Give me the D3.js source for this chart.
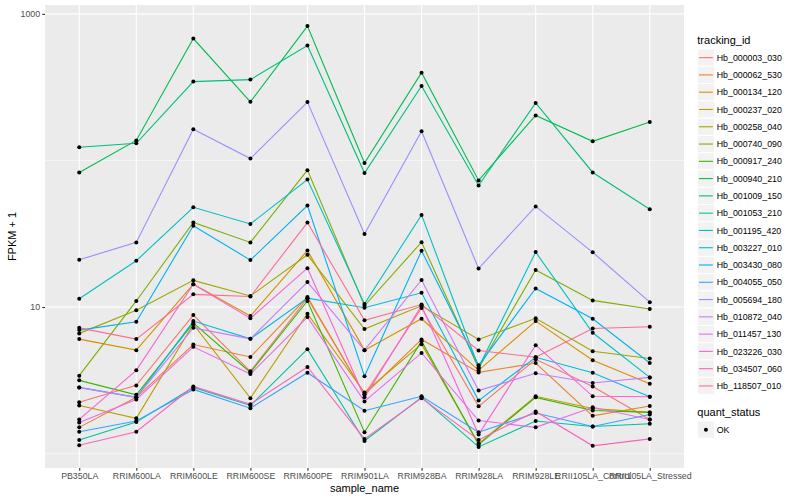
<!DOCTYPE html>
<html><head><meta charset="utf-8">
<script src="https://cdn.jsdelivr.net/npm/d3@7"></script>
<style>body{margin:0;background:#fff} text{font-family:"Liberation Sans",Arial,Helvetica,sans-serif}</style>
</head><body><svg id="c" width="800" height="500"></svg>
<script>
const samples = ["PB350LA","RRIM600LA","RRIM600LE","RRIM600SE","RRIM600PE","RRIM901LA","RRIM928BA","RRIM928LA","RRIM928LE","RRII105LA_Control","RRII105LA_Stressed"];
const trackingIds = ["Hb_000003_030","Hb_000062_530","Hb_000134_120","Hb_000237_020","Hb_000258_040","Hb_000740_090","Hb_000917_240","Hb_000940_210","Hb_001009_150","Hb_001053_210","Hb_001195_420","Hb_003227_010","Hb_003430_080","Hb_004055_050","Hb_005694_180","Hb_010872_040","Hb_011457_130","Hb_023226_030","Hb_034507_060","Hb_118507_010"];
const seriesColors = ["#F8766D","#EA8331","#D89000","#C09B00","#A3A500","#7CAE00","#39B600","#00BB4E","#00BF7D","#00C1A3","#00BFC4","#00BAE0","#00B0F6","#35A2FF","#9590FF","#C77CFF","#E76BF3","#FA62DB","#FF62BC","#FF6C91"];

// FPKM + 1 per sample, one array per tracking_id
const hb_000003_030 = [2.24, 2.92, 8.81, 3.64, 11.5, 2.53, 9.84, 2.10, 4.40, 2.87, 1.71];
const hb_000062_530 = [1.51, 2.42, 5.55, 4.56, 11.7, 2.53, 6.01, 3.58, 4.15, 1.81, 2.11];
const hb_000134_120 = [6.04, 5.08, 14.3, 8.68, 24.3, 5.08, 8.32, 3.70, 8.02, 4.33, 3.00];
const hb_000237_020 = [2.13, 1.74, 7.64, 2.39, 8.99, 2.61, 5.58, 1.17, 2.46, 2.03, 1.91];
const hb_000258_040 = [6.61, 9.49, 15.2, 11.9, 22.7, 7.07, 10.2, 6.01, 8.37, 4.99, 4.45];
const hb_000740_090 = [3.40, 11.0, 37.8, 27.6, 85.9, 10.2, 27.7, 3.82, 17.9, 11.1, 9.69];
const hb_000917_240 = [3.16, 2.52, 7.77, 3.58, 11.0, 1.40, 5.85, 1.15, 2.42, 1.97, 1.91];
const hb_000940_210 = [82.8, 137, 679, 251, 826, 96, 397, 73.1, 203, 135, 183];
const hb_001009_150 = [123, 131, 345, 356, 608, 82.0, 322, 67.5, 247, 82.8, 46.5];
const hb_001053_210 = [1.24, 1.64, 2.83, 2.13, 5.16, 1.22, 2.42, 1.11, 1.67, 1.53, 1.60];
const hb_001195_420 = [11.4, 20.7, 47.9, 36.9, 74.1, 10.5, 42.5, 3.88, 23.7, 6.67, 3.31];
const hb_003227_010 = [2.83, 2.42, 8.02, 6.07, 11.5, 9.89, 12.5, 2.30, 4.54, 3.56, 2.44];
const hb_003430_080 = [6.96, 7.93, 35.9, 20.9, 49.2, 3.37, 24.2, 4.00, 13.4, 8.32, 4.15];
const hb_004055_050 = [1.41, 1.67, 2.74, 2.04, 3.56, 1.96, 2.46, 1.40, 1.89, 1.53, 1.85];
const hb_005694_180 = [21.0, 27.6, 163, 103, 250, 31.5, 158, 18.3, 48.6, 23.6, 10.8];
const hb_010872_040 = [2.82, 2.42, 7.21, 6.07, 14.8, 5.08, 15.3, 2.69, 3.53, 3.03, 3.31];
const hb_011457_130 = [1.63, 2.34, 5.35, 3.49, 8.54, 2.27, 4.86, 1.68, 1.51, 2.07, 1.71];
const hb_023226_030 = [1.71, 3.70, 14.3, 8.37, 18.4, 2.42, 10.2, 1.35, 5.49, 2.46, 2.44];
const hb_034507_060 = [1.14, 1.41, 2.87, 2.17, 3.90, 1.26, 2.39, 1.24, 1.94, 1.13, 1.26];
const hb_118507_010 = [7.21, 6.04, 12.2, 11.8, 37.7, 8.11, 10.4, 5.05, 4.54, 7.14, 7.33];

const yMajorTicks = [10, 1000];
const yMinorTicks = [1, 100];
const statusLevels = ["OK"];

const seriesValues = [hb_000003_030,hb_000062_530,hb_000134_120,hb_000237_020,hb_000258_040,hb_000740_090,hb_000917_240,hb_000940_210,hb_001009_150,hb_001053_210,hb_001195_420,hb_003227_010,hb_003430_080,hb_004055_050,hb_005694_180,hb_010872_040,hb_011457_130,hb_023226_030,hb_034507_060,hb_118507_010];
const series = trackingIds.map((id,i)=>({id, color:seriesColors[i], values:seriesValues[i].map((v,j)=>({sample:samples[j], v}))}));

const svg = d3.select("#c");
const P = {l:45, r:684, t:5, b:468};
const all = seriesValues.flat();
const lmin = Math.log10(d3.min(all)), lmax = Math.log10(d3.max(all));
const ex = (lmax-lmin)*0.05;
const x = d3.scalePoint().domain(samples).range([P.l,P.r]).padding(0.6);
const y = d3.scaleLog().domain([Math.pow(10,lmin-ex), Math.pow(10,lmax+ex)]).range([P.b,P.t]);

svg.append("rect").attr("x",P.l).attr("y",P.t).attr("width",P.r-P.l).attr("height",P.b-P.t).attr("fill","#EBEBEB");
const g = svg.append("g");
yMinorTicks.forEach(t=>g.append("line").attr("x1",P.l).attr("x2",P.r).attr("y1",y(t)).attr("y2",y(t)).attr("stroke","#fff").attr("stroke-width",0.55));
yMajorTicks.forEach(t=>g.append("line").attr("x1",P.l).attr("x2",P.r).attr("y1",y(t)).attr("y2",y(t)).attr("stroke","#fff").attr("stroke-width",1.1));
samples.forEach(s=>g.append("line").attr("x1",x(s)).attr("x2",x(s)).attr("y1",P.t).attr("y2",P.b).attr("stroke","#fff").attr("stroke-width",1.1));

const line = d3.line().x(d=>x(d.sample)).y(d=>y(d.v));
svg.append("g").selectAll("path").data(series).join("path")
  .attr("d",d=>line(d.values)).attr("fill","none").attr("stroke",d=>d.color).attr("stroke-width",1.1);
svg.append("g").selectAll("circle").data(series.flatMap(s=>s.values)).join("circle")
  .attr("cx",d=>x(d.sample)).attr("cy",d=>y(d.v)).attr("r",2).attr("fill","#000");

// axes
const yAxis = d3.axisLeft(y).tickValues(yMajorTicks).tickFormat(d3.format("d")).tickSize(2.75).tickPadding(2.2);
const ya = svg.append("g").attr("transform",`translate(${P.l},0)`).call(yAxis);
ya.select(".domain").remove();
ya.selectAll("line").attr("stroke","#333").attr("stroke-width",1.1);
ya.selectAll("text").attr("fill","#4D4D4D").style("font-size","8.8px").style("font-family","'Liberation Sans',Arial,sans-serif");
const xAxis = d3.axisBottom(x).tickSize(2.75).tickPadding(2.2);
const xa = svg.append("g").attr("transform",`translate(0,${P.b})`).call(xAxis);
xa.select(".domain").remove();
xa.selectAll("line").attr("stroke","#333").attr("stroke-width",1.1);
xa.selectAll("text").attr("fill","#4D4D4D").style("font-size","8.8px").style("font-family","'Liberation Sans',Arial,sans-serif");

svg.append("text").attr("x",(P.l+P.r)/2).attr("y",491.5).attr("text-anchor","middle").style("font-size","11px").attr("fill","#000").text("sample_name");
svg.append("text").attr("transform",`translate(16,${(P.t+P.b)/2}) rotate(-90)`).attr("text-anchor","middle").style("font-size","11px").attr("fill","#000").text("FPKM + 1");

// legend
const L = {x:697.3, k:17.28, top:49};
const leg = svg.append("g");
leg.append("text").attr("x",L.x).attr("y",43.8).style("font-size","11px").text("tracking_id");
series.forEach((s,i)=>{
  const yy = L.top + i*L.k;
  leg.append("rect").attr("x",L.x).attr("y",yy).attr("width",L.k).attr("height",L.k).attr("fill","#F2F2F2").attr("stroke","#fff").attr("stroke-width",1);
  leg.append("line").attr("x1",L.x+1.7).attr("x2",L.x+L.k-1.7).attr("y1",yy+L.k/2).attr("y2",yy+L.k/2).attr("stroke",s.color).attr("stroke-width",1.1);
  leg.append("text").attr("x",L.x+L.k+2.2).attr("y",yy+L.k/2+3.1).style("font-size","8.8px").text(s.id);
});
leg.append("text").attr("x",L.x).attr("y",415.6).style("font-size","11px").text("quant_status");
statusLevels.forEach((s,i)=>{
  const yy = 421 + i*L.k;
  leg.append("rect").attr("x",L.x).attr("y",yy).attr("width",L.k).attr("height",L.k).attr("fill","#F2F2F2").attr("stroke","#fff").attr("stroke-width",1);
  leg.append("circle").attr("cx",L.x+L.k/2).attr("cy",yy+L.k/2).attr("r",2).attr("fill","#000");
  leg.append("text").attr("x",L.x+L.k+2.2).attr("y",yy+L.k/2+3.1).style("font-size","8.8px").text(s);
});
</script></body></html>
